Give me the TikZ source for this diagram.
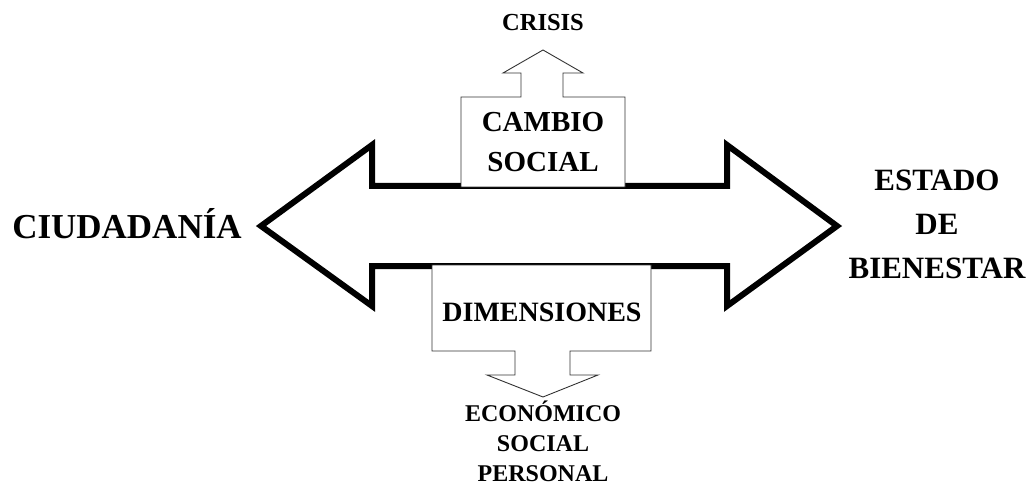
\documentclass[tikz,border=0pt]{standalone}
\usepackage{fontspec}
\setmainfont{Liberation Serif}
\usetikzlibrary{positioning}

\begin{document}
\begin{tikzpicture}[
    x=1pt, y=-1pt,
    bigarrow/.style={draw=black, fill=white, line width=6pt, line join=miter},
    boxarrow/.style={draw=black!80, fill=white, line width=0.9pt},
    lbl/.style={font=\fontsize{#1}{#1}\selectfont\bfseries, inner sep=0pt, align=center},
    stack/.style 2 args={font=\fontsize{#1}{#2}\selectfont\bfseries, inner sep=0pt, align=center},
]
\useasboundingbox (0,0) rectangle (1032,486);

% ============ DOUBLE ARROW ============
\draw[bigarrow] (261,226) -- (372,145) -- (372,186) -- (727,186) -- (727,145)
  -- (837,226) -- (727,306) -- (727,266) -- (372,266) -- (372,306) -- cycle;

% ============ CAMBIO SOCIAL (up) ============
\draw[boxarrow] (461,187) -- (461,97) -- (521,97) -- (521,73) -- (503,73)
  -- (543,50) -- (583,73) -- (563,73) -- (563,97) -- (625,97) -- (625,187) -- cycle;

% ============ DIMENSIONES (down) ============
\draw[boxarrow] (432,265) -- (651,265) -- (651,351) -- (570,351) -- (570,375)
  -- (598,375) -- (543,397) -- (487,375) -- (515,375) -- (515,351) -- (432,351) -- cycle;

% ============ LABELS ============
\node[lbl=35] (ciud) at (127,224) {CIUDADANÍA};
\node[stack={31}{44}] (estado) at (937,224) {ESTADO\\DE\\BIENESTAR};
\node[stack={29}{40}] (cambio) at (543,142) {CAMBIO\\SOCIAL};
\node[lbl=24.5] (crisis) at (543,23) {CRISIS};
\node[lbl=28] (dimen) at (542,312) {DIMENSIONES};
\node[stack={24}{30}] (ambitos) at (543,441) {ECONÓMICO\\SOCIAL\\PERSONAL};

\end{tikzpicture}
\end{document}
